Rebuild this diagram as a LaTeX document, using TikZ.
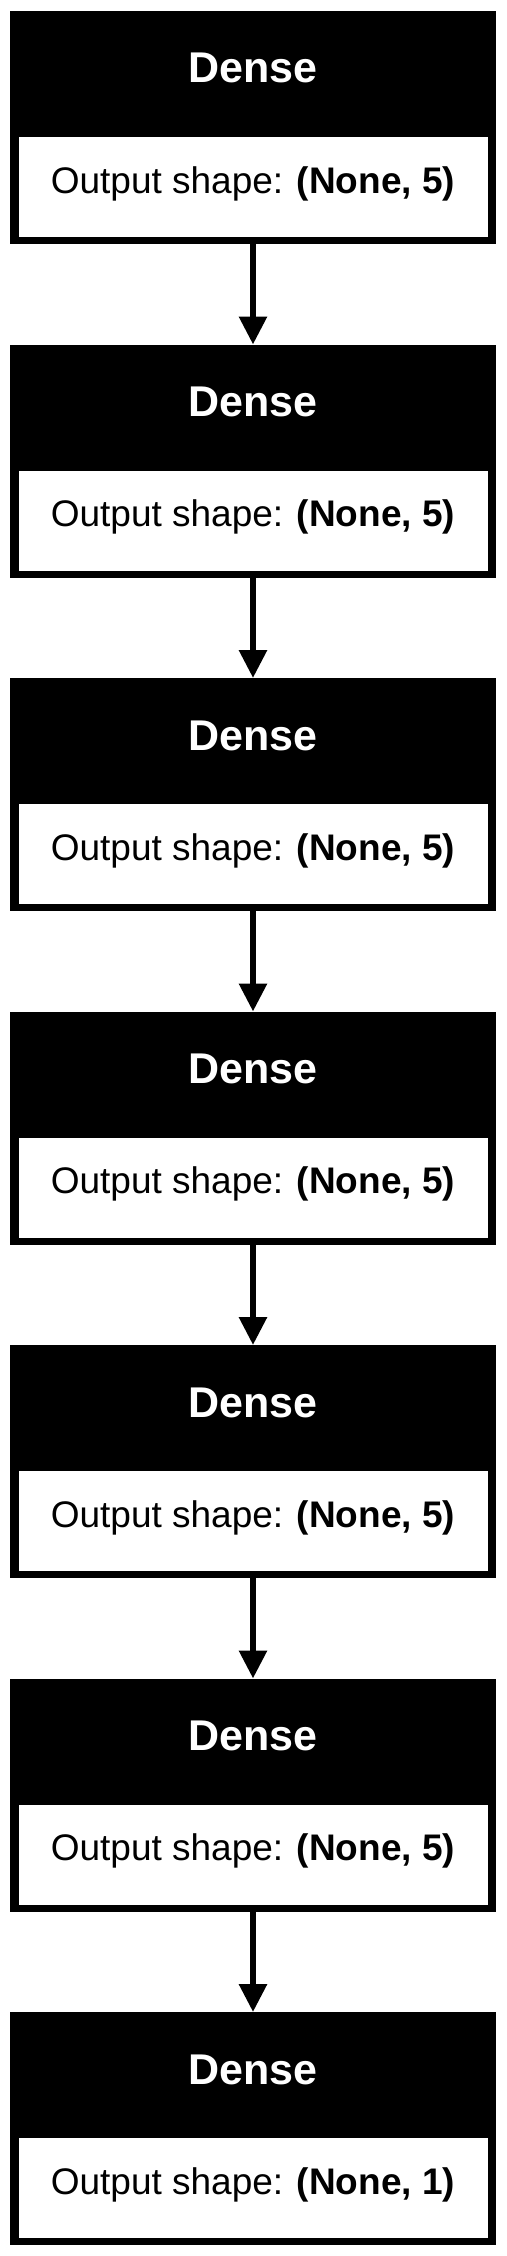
\documentclass[tikz,border=0pt]{standalone}
\usepackage{fontspec}
\setmainfont{Liberation Sans}
\usetikzlibrary{positioning,arrows.meta}

\tikzset{
    layerbox/.style={fill=black, draw=none, inner sep=0pt, minimum width=486pt, minimum height=233pt},
    outbox/.style={fill=white, draw=none, inner sep=0pt, minimum width=469pt, minimum height=100pt},
    headtext/.style={text=white, inner sep=0pt, anchor=base, font=\fontsize{43}{50}\selectfont\bfseries},
    shapetext/.style={text=black, inner sep=0pt, anchor=base, font=\fontsize{37}{44}\selectfont},
    flow/.style={line width=6pt, -{Triangle[length=28pt, width=27pt]}}
}

\begin{document}
\begin{tikzpicture}[x=1pt, y=1pt]
    \useasboundingbox (0,0) rectangle (506,-2256);

    % Layers
    \foreach \i/\units in {1/5,2/5,3/5,4/5,5/5,6/5,7/1} {
        \pgfmathsetmacro{\top}{-11-(\i-1)*333.5}
        \node[layerbox, anchor=north] (dense\i) at (253,\top) {};
        \node[outbox, anchor=north] (out\i) at ([yshift=-126pt]dense\i.north) {};
        \node[headtext] (head\i) at ([yshift=-72pt]dense\i.north) {Dense};
        \node[shapetext] (shape\i) at ([yshift=-182pt]dense\i.north) {Output shape: \textbf{(None, \units)}};
    }

    % Connections
    \foreach \i [evaluate=\i as \j using int(\i+1)] in {1,...,6} {
        \draw[flow] (dense\i.south) -- (dense\j.north);
    }
\end{tikzpicture}
\end{document}
